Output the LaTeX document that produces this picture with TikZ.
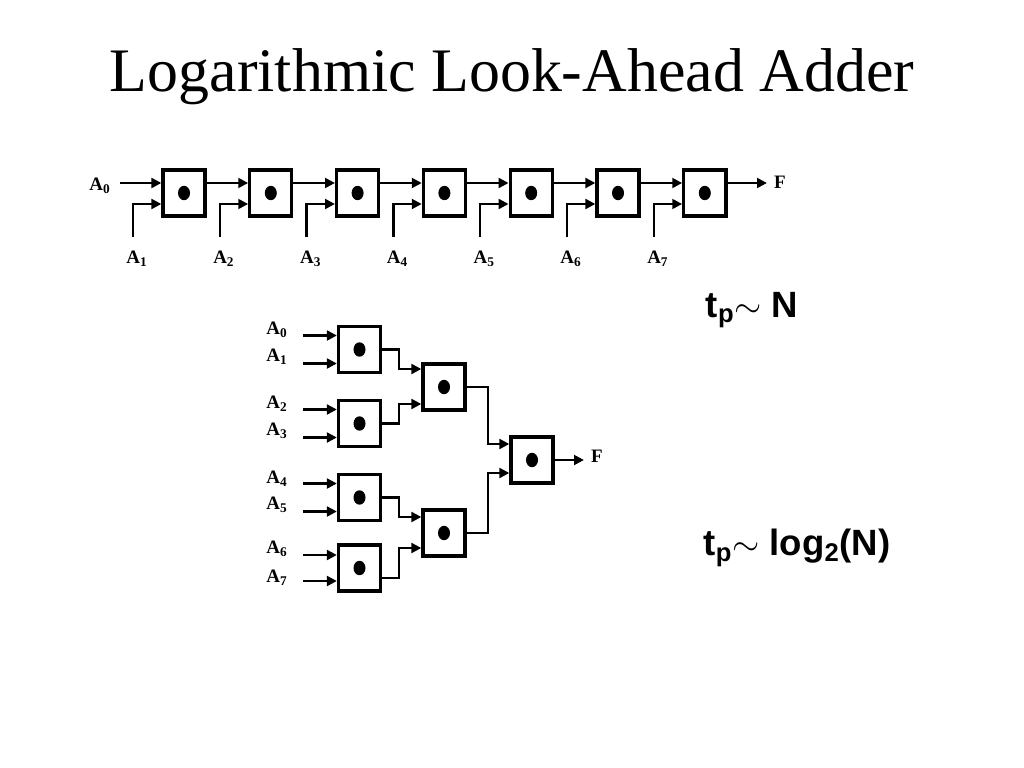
\documentclass[tikz,border=0pt]{standalone}
\usepackage{fontspec}
\setmainfont{Liberation Serif}
\newfontfamily\arialfont{Liberation Sans}
\usetikzlibrary{arrows.meta,positioning,calc}

\begin{document}
\begin{tikzpicture}[x=0.025cm, y=-0.025cm,
  cell/.style={draw, line width=2.4pt, minimum width=1.05cm, minimum height=1.15cm, inner sep=0pt},
  lab/.style={font=\fontsize{13.5}{15}\selectfont\bfseries, inner sep=1pt},
  big/.style={font=\arialfont\bfseries\fontsize{26}{30}\selectfont},
  arr/.style={-{Triangle[length=7pt, width=7pt]}, line width=1.6pt}
]
\useasboundingbox (0,0) rectangle (1024,768);
\node[font=\fontsize{44}{50}\selectfont] (title) at (512,77) {Logarithmic Look-Ahead Adder};

% ripple chain
\foreach \i in {1,...,7}{
  \node[cell] (c\i) at ({184+86.8*(\i-1)},193) {};
  \fill (c\i) ellipse [x radius=0.15cm, y radius=0.18cm];
  \node[lab] (a\i) at ({184+86.8*(\i-1)-47},259) {A\textsubscript{\i}};
  \coordinate (v\i) at ({184+86.8*(\i-1)-51},237);
  \draw[arr] (v\i) |- ($(c\i.west)+(0,11)$);
}
\node[lab] (a0) at (100,186) {A\textsubscript{0}};
\coordinate (t0) at (120,183);
\draw[arr] (t0) -- (t0 -| c1.west);
\foreach \i [count=\j from 2] in {1,...,6}
  \draw[arr] ($(c\i.east)+(0,-10)$) -- ($(c\j.west)+(0,-10)$);
\node[lab] (f1) at (780,182) {F};
\coordinate (o7) at ($(c7.east)+(0,-10)$);
\draw[arr, shorten >=4pt] (o7) -- (o7 -| f1.west);

% tree
\foreach \n/\y in {l1/349.5, l2/423.5, l3/497.5, l4/568}
  \node[cell] (\n) at (359.5,\y) {};
\node[cell] (m1) at (444,387) {};
\node[cell] (m2) at (444,533) {};
\node[cell] (r) at (532,460) {};
\foreach \n in {l1,l2,l3,l4,m1,m2,r}
  \fill (\n) ellipse [x radius=0.15cm, y radius=0.18cm];
\foreach \k/\y/\ly/\n in {0/335.5/330/l1, 1/363.5/357/l1, 2/409.5/404/l2, 3/437.5/431/l2,
                          4/483.5/479/l3, 5/511.5/505/l3, 6/555/549/l4, 7/581/578/l4}{
  \node[lab] (i\k) at (277,\ly) {A\textsubscript{\k}};
  \coordinate (s\k) at (303,\y);
  \draw[arr] (s\k) -- (s\k -| \n.west);
}
\draw[arr] (l1.east) -- ++(17,0) |- ($(m1.west)+(0,-18)$);
\draw[arr] (l2.east) -- ++(17,0) |- ($(m1.west)+(0,17)$);
\draw[arr] (l3.east) -- ++(17,0) |- ($(m2.west)+(0,-16)$);
\draw[arr] ($(l4.east)+(0,10)$) -- ++(17,0) |- ($(m2.west)+(0,15)$);
\draw[arr] (m1.east) -- ++(21,0) |- ($(r.west)+(0,-16)$);
\draw[arr] (m2.east) -- ++(21,0) |- ($(r.west)+(0,13)$);
\node[lab] (f2) at (597,456) {F};
\draw[arr, shorten >=4pt] (r.east) -- (r.east -| f2.west);

\node[big] (tp1) at (752,310) {t\textsubscript{p}$\sim$ N};
\node[big] (tp2) at (797,548) {t\textsubscript{p}$\sim$ log\textsubscript{2}(N)};
\end{tikzpicture}
\end{document}
